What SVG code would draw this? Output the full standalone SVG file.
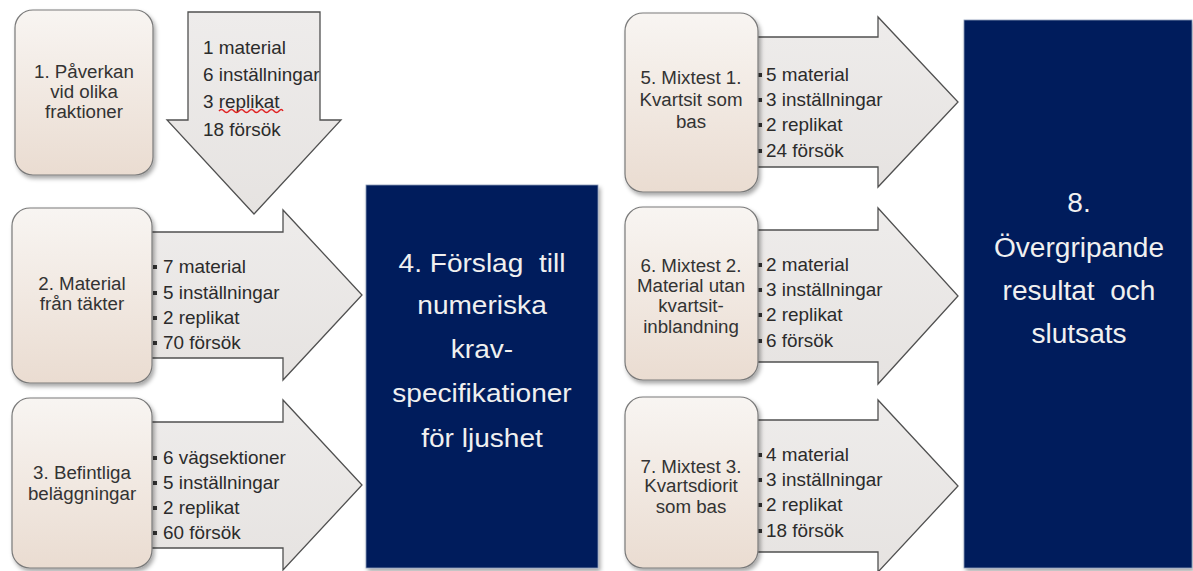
<svg xmlns="http://www.w3.org/2000/svg" width="1193" height="571" viewBox="0 0 1193 571">
<defs>
<linearGradient id="boxGrad" x1="0" y1="0" x2="0" y2="1">
<stop offset="0" stop-color="#F8F5F2"/>
<stop offset="1" stop-color="#EADCD1"/>
</linearGradient>
<linearGradient id="arrGrad" x1="0" y1="0" x2="0" y2="1">
<stop offset="0" stop-color="#EEECEB"/>
<stop offset="1" stop-color="#E6E3E1"/>
</linearGradient>
<filter id="sh" x="-10%" y="-10%" width="130%" height="130%">
<feDropShadow dx="2" dy="3" stdDeviation="2" flood-color="#000" flood-opacity="0.35"/>
</filter>
</defs>
<style>
.box{fill:url(#boxGrad);stroke:#7A7A7A;stroke-width:1.2;filter:url(#sh)}
.dark{fill:#001F5B;stroke:#8A9AB8;stroke-width:0.8;filter:url(#sh)}
.arr{fill:url(#arrGrad);stroke:#505050;stroke-width:1.3;stroke-linejoin:miter}
.lbl{font-family:"Liberation Sans",Arial,sans-serif;font-size:18px;fill:#333333;text-anchor:middle}
.lst{font-family:"Liberation Sans",Arial,sans-serif;font-size:18px;fill:#2B2B2B}
.big{font-family:"Liberation Sans",Arial,sans-serif;fill:#F0F0F0;text-anchor:middle;white-space:pre}
.bul{fill:#333333}
</style>
<rect width="1193" height="571" fill="#FFFFFF"/>

<g id="connectors">
  <g id="arrow1">
    <polygon class="arr" points="188,12 320,12 320,120 341,120 254,214 167,120 188,120"/>
    <text class="lst" transform="translate(203 54) scale(1.05 1)">1 material</text>
    <text class="lst" transform="translate(203 81) scale(1.05 1)">6 inställningar</text>
    <text class="lst" transform="translate(203 108) scale(1.05 1)">3 replikat</text>
    <text class="lst" transform="translate(203 136) scale(1.05 1)">18 försök</text>
    <path d="M219,111 q2.5,-3 5,0 t5,0 t5,0 t5,0 t5,0 t5,0 t5,0 t5,0 t5,0 t5,0 t5,0 t5,0 t4,0" fill="none" stroke="#E02020" stroke-width="1.4"/>
  </g>
  <g id="arrow2">
    <polygon class="arr" points="140,232 283,232 283,210 362,295 283,380 283,358 140,358"/>
    <rect class="bul" x="153" y="265" width="4" height="4"/>
    <rect class="bul" x="153" y="291" width="4" height="4"/>
    <rect class="bul" x="153" y="316" width="4" height="4"/>
    <rect class="bul" x="153" y="341" width="4" height="4"/>
    <text class="lst" transform="translate(163 273) scale(1.05 1)">7 material</text>
    <text class="lst" transform="translate(163 299) scale(1.05 1)">5 inställningar</text>
    <text class="lst" transform="translate(163 324) scale(1.05 1)">2 replikat</text>
    <text class="lst" transform="translate(163 349) scale(1.05 1)">70 försök</text>
  </g>
  <g id="arrow3">
    <polygon class="arr" points="140,422 283,422 283,400 362,485 283,570 283,548 140,548"/>
    <rect class="bul" x="153" y="456" width="4" height="4"/>
    <rect class="bul" x="153" y="481" width="4" height="4"/>
    <rect class="bul" x="153" y="506" width="4" height="4"/>
    <rect class="bul" x="153" y="531" width="4" height="4"/>
    <text class="lst" transform="translate(163 464) scale(1.05 1)">6 vägsektioner</text>
    <text class="lst" transform="translate(163 489) scale(1.05 1)">5 inställningar</text>
    <text class="lst" transform="translate(163 514) scale(1.05 1)">2 replikat</text>
    <text class="lst" transform="translate(163 539) scale(1.05 1)">60 försök</text>
  </g>
  <g id="arrow5">
    <polygon class="arr" points="745,37 878,37 878,17 958,102 878,187 878,167 745,167"/>
    <rect class="bul" x="758" y="73" width="4" height="4"/>
    <rect class="bul" x="758" y="98" width="4" height="4"/>
    <rect class="bul" x="758" y="123" width="4" height="4"/>
    <rect class="bul" x="758" y="149" width="4" height="4"/>
    <text class="lst" transform="translate(766 81) scale(1.05 1)">5 material</text>
    <text class="lst" transform="translate(766 106) scale(1.05 1)">3 inställningar</text>
    <text class="lst" transform="translate(766 131) scale(1.05 1)">2 replikat</text>
    <text class="lst" transform="translate(766 157) scale(1.05 1)">24 försök</text>
  </g>
  <g id="arrow6">
    <polygon class="arr" points="745,230 878,230 878,208 958,296 878,384 878,362 745,362"/>
    <rect class="bul" x="758" y="263" width="4" height="4"/>
    <rect class="bul" x="758" y="288" width="4" height="4"/>
    <rect class="bul" x="758" y="313" width="4" height="4"/>
    <rect class="bul" x="758" y="339" width="4" height="4"/>
    <text class="lst" transform="translate(766 271) scale(1.05 1)">2 material</text>
    <text class="lst" transform="translate(766 296) scale(1.05 1)">3 inställningar</text>
    <text class="lst" transform="translate(766 321) scale(1.05 1)">2 replikat</text>
    <text class="lst" transform="translate(766 347) scale(1.05 1)">6 försök</text>
  </g>
  <g id="arrow7">
    <polygon class="arr" points="745,420 878,420 878,400 958,486 878,572 878,552 745,552"/>
    <rect class="bul" x="758" y="453" width="4" height="4"/>
    <rect class="bul" x="758" y="478" width="4" height="4"/>
    <rect class="bul" x="758" y="503" width="4" height="4"/>
    <rect class="bul" x="758" y="529" width="4" height="4"/>
    <text class="lst" transform="translate(766 461) scale(1.05 1)">4 material</text>
    <text class="lst" transform="translate(766 486) scale(1.05 1)">3 inställningar</text>
    <text class="lst" transform="translate(766 511) scale(1.05 1)">2 replikat</text>
    <text class="lst" transform="translate(766 537) scale(1.05 1)">18 försök</text>
  </g>
</g>

<g id="node1">
  <rect class="box" x="15" y="10" width="138" height="165" rx="18"/>
  <text class="lbl" transform="translate(84 78) scale(1.04 1)">1. Påverkan</text>
  <text class="lbl" transform="translate(84 98) scale(1.04 1)">vid olika</text>
  <text class="lbl" transform="translate(84 118) scale(1.04 1)">fraktioner</text>
</g>
<g id="node2">
  <rect class="box" x="12" y="208" width="140" height="175" rx="18"/>
  <text class="lbl" transform="translate(82 290) scale(1.04 1)">2. Material</text>
  <text class="lbl" transform="translate(82 310) scale(1.04 1)">från täkter</text>
</g>
<g id="node3">
  <rect class="box" x="12" y="398" width="140" height="170" rx="18"/>
  <text class="lbl" transform="translate(82 479) scale(1.04 1)">3. Befintliga</text>
  <text class="lbl" transform="translate(82 500) scale(1.04 1)">beläggningar</text>
</g>
<g id="node4">
  <rect class="dark" x="366" y="185" width="232" height="383"/>
  <text class="big" font-size="26" transform="translate(482 272) scale(1.08 1)">4. Förslag  till</text>
  <text class="big" font-size="26" transform="translate(482 314) scale(1.08 1)">numeriska</text>
  <text class="big" font-size="26" transform="translate(482 358) scale(1.08 1)">krav-</text>
  <text class="big" font-size="26" transform="translate(482 402) scale(1.08 1)">specifikationer</text>
  <text class="big" font-size="26" transform="translate(482 447) scale(1.08 1)">för ljushet</text>
</g>
<g id="node5">
  <rect class="box" x="625" y="13" width="133" height="179" rx="18"/>
  <text class="lbl" transform="translate(691 84) scale(1.04 1)">5. Mixtest 1.</text>
  <text class="lbl" transform="translate(691 106) scale(1.04 1)">Kvartsit som</text>
  <text class="lbl" transform="translate(691 128) scale(1.04 1)">bas</text>
</g>
<g id="node6">
  <rect class="box" x="625" y="207" width="133" height="173" rx="18"/>
  <text class="lbl" transform="translate(691 272) scale(1.04 1)">6. Mixtest 2.</text>
  <text class="lbl" transform="translate(691 292) scale(1.04 1)">Material utan</text>
  <text class="lbl" transform="translate(691 312) scale(1.04 1)">kvartsit-</text>
  <text class="lbl" transform="translate(691 333) scale(1.04 1)">inblandning</text>
</g>
<g id="node7">
  <rect class="box" x="625" y="397" width="133" height="171" rx="18"/>
  <text class="lbl" transform="translate(691 473) scale(1.04 1)">7. Mixtest 3.</text>
  <text class="lbl" transform="translate(691 492) scale(1.04 1)">Kvartsdiorit</text>
  <text class="lbl" transform="translate(691 513) scale(1.04 1)">som bas</text>
</g>
<g id="node8">
  <rect class="dark" x="964" y="20" width="228" height="548"/>
  <text class="big" font-size="27" transform="translate(1079 212) scale(1.04 1)">8.</text>
  <text class="big" font-size="27" transform="translate(1079 257) scale(1.04 1)">Övergripande</text>
  <text class="big" font-size="27" transform="translate(1079 300) scale(1.04 1)">resultat  och</text>
  <text class="big" font-size="27" transform="translate(1079 343) scale(1.04 1)">slutsats</text>
</g>
</svg>
